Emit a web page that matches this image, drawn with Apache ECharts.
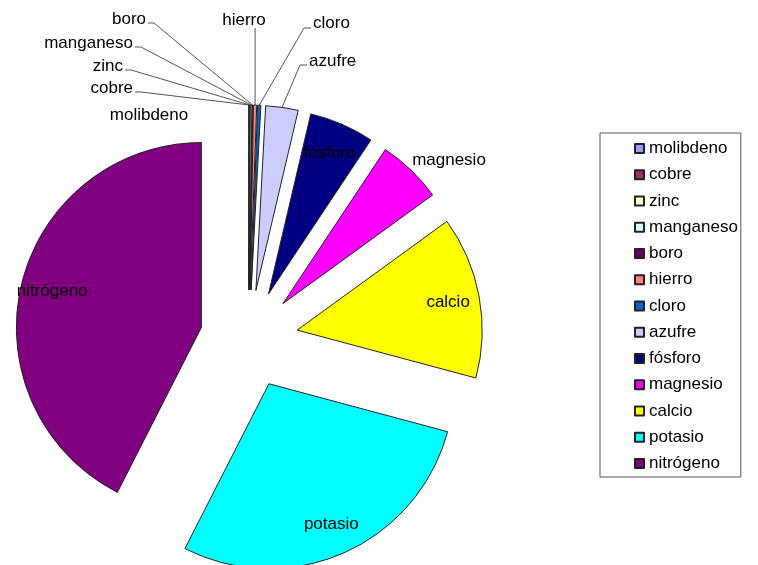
<!DOCTYPE html>
<html>
<head>
<meta charset="utf-8">
<script src="https://cdn.jsdelivr.net/npm/echarts@6/dist/echarts.min.js"></script>
<style>
  html, body { margin: 0; padding: 0; background: #fff; }
  #grafico { width: 758px; height: 565px; }
</style>
</head>
<body>
<div id="grafico"></div>
<script>
// nutrientes en el orden del pastel (desde las 12, sentido horario)
var nutrientes = ['molibdeno', 'cobre', 'zinc', 'manganeso', 'boro', 'hierro', 'cloro',
  'azufre', 'fósforo', 'magnesio', 'calcio', 'potasio', 'nitrógeno'];
// contenido en materia seca (ppm)
var ppm = [0.1, 6, 20, 50, 20, 100, 100, 1000, 2000, 2000, 5000, 10000, 15000];

// colores estilo Excel
var colores = ['#9999FF', '#993366', '#FFFFCC', '#CCFFFF', '#660066', '#FF8080', '#0066CC',
  '#CCCCFF', '#000080', '#FF00FF', '#FFFF00', '#00FFFF', '#800080'];

var etiquetaDentro = ['fósforo', 'calcio', 'potasio', 'nitrógeno'];
// etiquetas exteriores: [x, y, align, y de la linea guia]
var etiquetaFuera = {
  'molibdeno': [149, 115, 'center', null],
  'cobre': [133, 88, 'right', 92],
  'zinc': [123, 66, 'right', 70],
  'manganeso': [133, 43, 'right', 47],
  'boro': [146, 19, 'right', 23],
  'hierro': [244, 20, 'center', 28],
  'cloro': [313, 23, 'left', 28],
  'azufre': [309, 61, 'left', 65],
  'magnesio': [449, 160, 'center', null]
};

var centro = [249, 339];
var radio = 185;
var separacion = 49;
var fuente = 'Liberation Sans';

var datosPastel = nutrientes.map(function (n, i) {
  return { name: n, value: ppm[i], selected: true, itemStyle: { color: colores[i] } };
});
var datosEtiquetas = nutrientes.map(function (n, i) {
  var dentro = etiquetaDentro.indexOf(n) >= 0;
  return { name: n, value: ppm[i], selected: true, label: { show: dentro } };
});

var myChart = echarts.init(document.getElementById('grafico'));
myChart.setOption({
  animation: false,
  color: colores,
  legend: {
    orient: 'vertical',
    left: 600,
    top: 133,
    data: nutrientes,
    icon: 'rect',
    itemWidth: 9,
    itemHeight: 9,
    itemGap: 9.25,
    padding: [7, 3, 5, 34],
    borderColor: '#555',
    borderWidth: 1,
    selectedMode: false,
    textStyle: { fontFamily: fuente, fontSize: 17, color: '#000', lineHeight: 16 }
  },
  series: [
    {
      type: 'pie',
      center: centro,
      radius: radio,
      startAngle: 90,
      clockwise: true,
      selectedMode: 'multiple',
      selectedOffset: separacion,
      avoidLabelOverlap: false,
      label: { show: false },
      labelLine: { show: false },
      itemStyle: { borderColor: '#222', borderWidth: 1 },
      select: { itemStyle: { borderColor: '#222', borderWidth: 1 } },
      emphasis: { disabled: true },
      data: datosPastel
    },
    {
      // serie invisible solo para las etiquetas interiores
      type: 'pie',
      silent: true,
      center: centro,
      radius: [radio - 69, radio],
      startAngle: 90,
      clockwise: true,
      selectedMode: 'multiple',
      selectedOffset: separacion,
      avoidLabelOverlap: false,
      itemStyle: { color: 'rgba(0,0,0,0)', borderWidth: 0 },
      select: { itemStyle: { color: 'rgba(0,0,0,0)', borderWidth: 0 } },
      emphasis: { disabled: true },
      label: { position: 'inside', color: '#000', fontFamily: fuente, fontSize: 17 },
      labelLine: { show: false },
      data: datosEtiquetas
    }
  ]
});

// etiquetas exteriores con lineas guia ancladas al arco de cada sector
var datos = myChart.getModel().getSeriesByIndex(0).getData();
var graficos = [];
nutrientes.forEach(function (n, i) {
  var e = etiquetaFuera[n];
  if (!e) return;
  graficos.push({
    type: 'text', x: e[0], y: e[1], silent: true,
    style: { text: n, font: '17px "' + fuente + '"', fill: '#000', align: e[2], verticalAlign: 'middle' }
  });
  if (e[3] == null) return;
  var lay = datos.getItemLayout(i);
  var medio = (lay.startAngle + lay.endAngle) / 2;
  var r = lay.r + separacion;
  var a = [lay.cx + r * Math.cos(medio), lay.cy + r * Math.sin(medio)];
  var pts;
  if (e[2] === 'right') pts = [[e[0] + 2, e[3]], [e[0] + 8, e[3]], a];
  else if (e[2] === 'left') pts = [[e[0] - 2, e[3]], [e[0] - 9, e[3]], a];
  else pts = [[a[0], e[3]], a];
  graficos.push({
    type: 'polyline', silent: true,
    shape: { points: pts },
    style: { stroke: '#555', lineWidth: 1, fill: null }
  });
});
myChart.setOption({ graphic: graficos });
</script>
</body>
</html>
